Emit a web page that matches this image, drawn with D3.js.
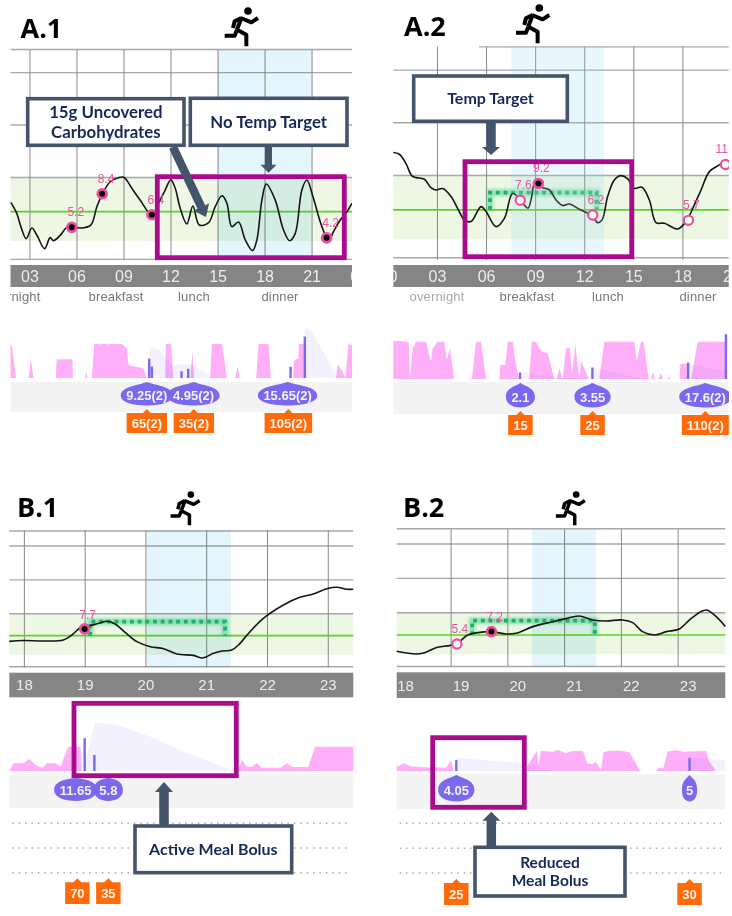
<!DOCTYPE html>
<html><head><meta charset="utf-8">
<script src="https://cdn.jsdelivr.net/npm/d3@7/dist/d3.min.js"></script>
<style>html,body{margin:0;padding:0;background:#fff}svg{display:block;filter:blur(0.35px)}</style>
</head><body><div id="c"></div>
<script>
// ---------- Panel A.1 ----------
const a1Hours=[1.81,2.19,2.45,2.79,3.15,3.47,3.96,4.32,4.53,4.96,5.38,5.70,6.23,6.91,7.30,7.62,8.15,8.68,9.04,9.53,10.06,10.81,11.23,11.66,12.02,12.30,12.62,13.04,13.43,13.83,14.43,14.85,15.28,15.60,15.91,16.34,16.77,17.23,17.51,17.83,18.11,18.68,19.21,19.60,19.96,20.38,20.70,21.09,21.66,22.09,22.40,22.83,23.26,23.57];
const a1Glucose=[7.58,6.53,5.27,4.12,5.14,4.47,3.17,4.22,3.93,4.44,5.2,5.27,5.14,5.42,7.17,8.28,9.55,9.93,9.96,8.92,7.8,6.38,7.49,8.76,9.74,8.92,7.01,5.52,7.23,5.42,5.65,7.17,8.22,7.49,5.27,5.71,4.0,2.98,4.0,7.8,9.33,7.8,4.95,3.93,4.63,8.76,9.71,8.12,5.27,3.93,4.79,5.9,6.69,7.49];
const a1MarkerHours=[5.70,7.64,10.81,21.96];
const a1MarkerValues=[5.2,8.4,6.4,4.2];
const a1MarkerFilled=[1,1,1,1];
const a1Exercise=[15.02,21.0];
const a1BasalHours=[1.79,1.89,2.15,2.94,3.09,3.26,4.68,4.74,5.74,5.77,6.55,6.62,6.70,6.98,7.13,7.5,7.53,7.56,8.0,8.03,8.06,8.89,9.21,9.32,10.28,10.49,11.66,11.70,12.02,12.19,13.26,13.40,13.51,14.53,14.64,15.28,15.60,16.13,16.28,16.40,17.47,17.62,18.26,18.40,19.81,19.89,20.17,20.18,20.53,20.66,22.55,22.66,22.94,23.15,23.36,23.58];
const a1BasalRates=[1,.92,0,0,.55,0,0,.55,.55,0,0,.19,0,0,1,1,.92,1,1,.92,1,1,.87,.38,.28,0,0,1,1,0,0,.77,0,0,1,1,0,0,.33,0,0,1,1,0,0,.51,.58,1,1,0,0,.38,.23,0,1,.97];
const a1IobHours=[10.49,10.70,11.34,11.98,12.40,12.72,13.36,14.32,14.74,20.55,20.60,21.02,22.51,22.66];
const a1IobRates=[0,.92,.82,.38,.38,.41,.38,.14,0,0,1.49,1.36,.14,0];
const a1BolusHours=[10.64,10.81,12.7,13.13,19.66,20.57];
const a1BolusRates=[.57,.34,.2,.27,.33,1.22];
const a1DropHours=[10.49,13.47,19.47];
const a1DropLabels=["9.25(2)","4.95(2)","15.65(2)"];
const a1CarbHours=[10.49,13.49,19.52];
const a1CarbLabels=["65(2)","35(2)","105(2)"];
const a1Periods=["overnight","breakfast","lunch","dinner"];

// ---------- Panel A.2 ----------
const a2Hours=[.33,.70,1.10,1.47,1.72,2.23,2.63,2.94,3.35,3.86,4.26,4.67,5.08,5.69,6.0,6.61,7.12,7.63,8.24,8.56,8.79,8.95,9.46,9.87,10.28,10.68,11.09,11.70,12.21,12.52,12.82,13.09,13.43,13.84,14.25,14.66,15.06,15.53,15.98,16.39,16.90,17.71,18.22,18.73,19.14,19.65,20.26,20.63];
const a2Glucose=[12.13,11.97,11.1,9.91,9.75,9.6,8.8,8.58,8.71,7.95,6.84,5.74,5.58,7.0,6.53,5.1,5.89,8.27,7.32,6.84,7.95,9.06,8.8,8.58,7.63,7.1,7.25,6.75,6.37,6.05,5.48,5.74,7.95,9.53,9.94,9.63,8.74,8.84,7.63,5.48,5.42,4.88,5.58,7.16,8.58,10.32,10.96,11.37];
const a2MarkerHours=[8.09,9.2,12.52,18.37,20.63];
const a2MarkerValues=[7.6,9.2,6.2,5.7,11];
const a2MarkerFilled=[0,1,0,0,0];
const a2Exercise=[7.55,13.21];
const a2TargetHours=[6.24,12.76];
const a2TargetLevel=8.33;
const a2BasalHours=[.33,1.27,1.35,1.51,1.72,2.33,2.63,2.74,3.04,3.45,3.61,3.79,4.06,4.83,5.14,5.38,5.69,6.0,6.81,6.87,7.18,7.32,7.63,7.77,8.03,8.64,8.79,9.05,9.26,9.46,9.77,10.17,10.32,10.48,10.68,10.89,11.13,11.25,11.46,11.70,11.80,12.27,12.92,13.23,15.06,15.21,15.47,15.63,15.94,16.10,16.19,16.29,16.55,16.67,16.80,17.10,17.16,17.25,17.82,17.88,18.33,18.39,18.53,18.94,20.63,20.71];
const a2BasalRates=[1,.97,0,.8,.97,.97,.45,.8,.97,.97,.5,.8,0,0,.02,.97,.97,0,0,.365,.365,.97,.97,.5,0,0,.97,.97,.8,.71,.67,0,0,.28,0,.8,.8,.15,.89,0,.48,0,0,.97,.97,.45,.97,.97,0,0,.19,0,0,.165,0,0,.08,0,0,.39,.39,0,0,.97,.97,0];
const a2IobHours=[8.24,8.25,10.17,12.62,12.63,15.57,18.39,18.40,20.63];
const a2IobRates=[0,.19,.04,0,.3,0,0,.4,.2];
const a2BolusHours=[8.08,12.5,18.35,20.66];
const a2BolusRates=[.17,.3,.43,1.17];
const a2DropHours=[8.1,12.51,19.4];
const a2DropLabels=["2.1","3.55","17.6(2)"];
const a2CarbHours=[8.1,12.51,19.4];
const a2CarbLabels=["15","25","110(2)"];
const a2Periods=["overnight","breakfast","lunch","dinner"];

// ---------- Panel B.1 ----------
const b1Hours=[17.76,17.99,18.32,18.65,18.79,18.95,19.06,19.23,19.37,19.50,19.67,19.86,20.08,20.30,20.52,20.79,20.94,21.12,21.26,21.42,21.53,21.72,21.94,22.27,22.54,22.76,23.01,23.15,23.31,23.42];
const b1Glucose=[5.87,6.0,5.92,6.06,6.8,8.03,8.13,8.52,8.82,8.43,7.15,5.82,5.08,4.79,4.0,3.8,3.41,4.1,4.44,4.59,5.33,7.29,9.26,11.23,12.36,12.85,13.69,13.84,13.54,13.54];
const b1MarkerHours=[19.0];
const b1MarkerValues=[7.7];
const b1MarkerFilled=[1];
const b1Exercise=[20.03,21.41];
const b1TargetHours=[19.09,21.31];
const b1TargetLevel=8.77;
const b1BasalHours=[17.76,17.83,17.99,18.09,18.19,18.30,18.38,18.52,18.6,18.73,18.93,18.95,21.52,21.53,21.59,21.67,21.75,21.83,21.91,22.22,22.33,22.41,22.68,22.79,23.42];
const b1BasalRates=[0,.31,.31,.48,.24,.13,.31,.31,.17,.97,.97,0,0,.1,.44,.17,.17,.31,.13,.13,.31,.16,.16,.97,.97];
const b1IobHours=[18.98,19.17,19.53,20.08,20.63,21.12,21.45];
const b1IobRates=[0,1.95,1.84,1.37,.77,.31,0];
const b1BolusHours=[19.0,19.16];
const b1BolusRates=[1.31,.64];
const b1DropHours=[18.85,19.39];
const b1DropLabels=["11.65","5.8"];
const b1CarbHours=[18.88,19.39];
const b1CarbLabels=["70","35"];

// ---------- Panel B.2 ----------
const b2Hours=[18.05,18.39,18.54,18.77,18.98,19.12,19.30,19.48,19.71,19.98,20.15,20.45,20.80,21.03,21.26,21.50,21.74,22.03,22.21,22.38,22.59,22.80,23.03,23.24,23.50,23.68,23.84];
const b2Glucose=[4.34,3.95,4.14,4.92,5.16,5.5,6.71,7.05,7.19,6.85,6.95,7.92,8.64,9.08,9.47,8.89,8.74,8.89,8.5,7.19,6.71,7.19,7.58,9.13,10.34,9.37,7.92];
const b2MarkerHours=[19.11,19.72];
const b2MarkerValues=[5.4,7.2];
const b2MarkerFilled=[0,1];
const b2Exercise=[20.43,21.56];
const b2TargetHours=[19.38,21.54];
const b2TargetLevel=8.79;
const b2BasalHours=[18.05,18.07,18.18,18.30,18.62,18.80,18.92,19.01,19.05,20.33,20.36,20.52,20.55,20.59,20.80,20.89,21.03,21.15,21.33,21.41,21.50,21.56,21.65,21.69,21.80,22.0,22.15,22.34,22.61,22.68,22.75,22.82,22.97,23.09,23.50,23.56,23.68];
const b2BasalRates=[.37,.21,.37,.21,.17,.17,.16,.52,0,0,.29,.95,.29,.95,.92,1,.84,.95,.95,.37,.32,.44,.05,.89,.97,.97,.89,0,0,.16,.16,.92,1,.92,.95,.44,0];
const b2IobHours=[19.08,19.09,20.27,20.80,23.24,23.25,23.84];
const b2IobRates=[0,.63,.37,0,0,.63,.52];
const b2BolusHours=[19.1,23.21];
const b2BolusRates=[.52,.63];
const b2DropHours=[19.1,23.21];
const b2DropLabels=["4.05","5"];
const b2CarbHours=[19.1,23.21];
const b2CarbLabels=["25","30"];

const gridValues=[2.2,10,15,20,22.2];
const bandRange=[3.9,10];
const targetBase=6.7;

// ---------- Colours ----------
const C={band:"#edf7e4",target:"#5ad420",bar:"#858585",hgrid:"#a8a8a8",vgrid:"#888888",blue:"#e4f5fd",pink:"#ffaef8",iob:"rgba(125,105,240,0.09)",bolus:"#7a68ee",orange:"#ff6a0a",strip:"#f3f3f3",magenta:"#ac0a8c",rose:"#ea4f9f",slate:"#44546a",navy:"#14285a",tt:"#1fae6a"};
const SANS="'Liberation Sans',Arial,sans-serif", CAL="Lato,'Open Sans',sans-serif";

const svg=d3.select("#c").append("svg").attr("width",732).attr("height",916).attr("viewBox","0 0 732 916");
const defs=svg.append("defs");
defs.append("filter").attr("id","glow").attr("x","-10%").attr("y","-40%").attr("width","120%").attr("height","180%")
  .append("feGaussianBlur").attr("stdDeviation",1.6);

function panel(L){
  const d=L.data;
  const x=d3.scaleLinear().domain(L.hours).range([L.left,L.right]);
  const y=d3.scaleLinear().domain(bandRange).range([L.bandBottom,L.bandTop]);
  const r=d3.scaleLinear().domain([0,1]).range([L.basalBase,L.basalTop]);
  const g=svg.append("g");
  const clipId="clip"+L.id;
  defs.append("clipPath").attr("id",clipId).append("rect").attr("x",L.left).attr("y",0).attr("width",L.right-L.left).attr("height",916);
  const gc=g.append("g").attr("clip-path",`url(#${clipId})`);
  gc.append("rect").attr("x",L.left).attr("width",L.right-L.left).attr("y",L.bandTop).attr("height",L.bandBottom-L.bandTop).attr("fill",C.band);
  const hAxis=gc.append("g").attr("transform",`translate(${L.left},0)`)
    .call(d3.axisLeft(y).tickValues(gridValues).tickSize(-(L.right-L.left)).tickFormat(""));
  hAxis.select(".domain").remove();
  hAxis.selectAll("line").attr("stroke",C.hgrid).attr("stroke-width",1.4);
  if(L.topStart) hAxis.selectAll(".tick").filter(v=>v===22.2).select("line").attr("x2",L.right-L.left).attr("x1",L.topStart-L.left);
  const vAxis=gc.append("g").attr("transform",`translate(0,${L.gridBottom})`)
    .call(d3.axisBottom(x).tickValues(L.ticks).tickSize(-(L.gridBottom-L.gridTop)).tickFormat(""));
  vAxis.select(".domain").remove();
  vAxis.selectAll("line").attr("stroke",C.vgrid).attr("stroke-width",1);
  gc.append("line").attr("x1",L.left).attr("x2",L.right).attr("y1",y(targetBase)).attr("y2",y(targetBase)).attr("stroke",C.target).attr("stroke-width",1.7);
  const exRect=sel=>sel.attr("x",x(d.exercise[0])).attr("width",x(d.exercise[1])-x(d.exercise[0])).attr("y",L.gridTop).attr("height",L.gridBottom-L.gridTop);
  gc.append("rect").call(exRect).attr("fill",C.blue).style("mix-blend-mode","multiply");
  if(d.targetHours){
    const pts=[[d.targetHours[0],targetBase],[d.targetHours[0],d.targetLevel],[d.targetHours[1],d.targetLevel],[d.targetHours[1],targetBase]];
    const ln=d3.line().x(p=>x(p[0])).y(p=>y(p[1]));
    gc.append("path").attr("d",ln(pts)).attr("fill","none").attr("stroke","#3ad184").attr("stroke-width",6.5).attr("opacity",.55).attr("filter","url(#glow)");
    gc.append("path").attr("d",ln(pts)).attr("fill","none").attr("stroke",C.tt).attr("stroke-width",L.ttWidth).attr("stroke-dasharray",L.ttDash);
  }
  const pts=d.hours.map((h,i)=>[h,d.glucose[i]]);
  gc.append("path").attr("d",d3.line().x(p=>x(p[0])).y(p=>y(p[1])).curve(d3.curveCatmullRom.alpha(.5))(pts)).attr("fill","none").attr("stroke","#151515").attr("stroke-width",1.6);
  if(L.box) boxRect(L.box);
  if(L.veil) gc.append("rect").call(exRect).attr("fill","#fff").attr("opacity",.16);
  d.markerHours.forEach((h,i)=>{
    const mx=x(h), my=y(d.markerValues[i]);
    if(d.markerFilled[i]){
      gc.append("circle").attr("cx",mx).attr("cy",my).attr("r",4.4).attr("fill","#000").attr("stroke",C.rose).attr("stroke-width",2.8);
    }else{
      gc.append("circle").attr("cx",mx).attr("cy",my).attr("r",4.6).attr("fill","#fff").attr("stroke",C.rose).attr("stroke-width",2.2);
    }
    gc.append("text").attr("x",Math.min(mx+L.markDx,L.right-7)).attr("y",my-L.markDy).attr("text-anchor","middle").attr("font-family",SANS).attr("font-size",12).attr("fill","#e2559f").text(d.markerValues[i]);
  });
  gc.append("rect").attr("x",L.left).attr("width",L.right-L.left).attr("y",L.barTop).attr("height",L.barBottom-L.barTop).attr("fill",C.bar);
  const tAxis=gc.append("g").attr("transform",`translate(${L.tickDx},${L.barTop})`)
    .call(d3.axisBottom(x).tickValues(L.ticks).tickSize(0).tickPadding(0).tickFormat(h=>d3.format("02")(h%24===0?0:h)));
  tAxis.select(".domain").remove();
  tAxis.selectAll("text").attr("font-family",SANS).attr("font-size",L.tickFont).attr("fill","#ececec").attr("dy",null).attr("y",(L.barBottom-L.barTop)/2+L.tickFont*0.36);
  if(L.periods) L.periods.forEach((c,i)=>{
    gc.append("text").attr("x",c).attr("y",L.periodY).attr("text-anchor","middle").attr("font-family",SANS).attr("font-size",13).attr("letter-spacing",".15px").attr("fill",(i===0&&L.id==="a2")?"#a8a8a8":"#777").text(d.periods[i]);
  });
  gc.append("rect").attr("x",L.left).attr("width",L.right-L.left).attr("y",L.stripTop).attr("height",L.stripBottom-L.stripTop).attr("fill",C.strip);
  const area=d3.area().x(p=>x(p[0])).y0(r(0)).y1(p=>r(p[1]));
  gc.append("path").attr("d",area(d.basalHours.map((h,i)=>[h,d.basalRates[i]]))).attr("fill",C.pink);
  gc.append("path").attr("d",area(d.iobHours.map((h,i)=>[h,d.iobRates[i]]))).attr("fill",C.iob);
  d.bolusHours.forEach((h,i)=>gc.append("rect").attr("x",x(h)-1.2).attr("width",2.4).attr("y",r(d.bolusRates[i])).attr("height",r(0)-r(d.bolusRates[i])).attr("fill",C.bolus));
  if(L.dots) L.dots.forEach(v=>gc.append("line").attr("x1",L.left+3).attr("x2",L.right-3).attr("y1",v).attr("y2",v).attr("stroke","#a8a8a8").attr("stroke-width",1.4).attr("stroke-dasharray","1.4 5"));
  d.dropHours.forEach((h,i)=>{
    const cx=x(h);
    const t=gc.append("text").attr("x",cx).attr("y",L.dropCy+4.5).attr("text-anchor","middle").attr("font-family",SANS).attr("font-weight","bold").attr("font-size",13).attr("fill","#f4f2ff").text(d.dropLabels[i]);
    const w=t.node().getComputedTextLength();
    const rx=w/2+(w<12?4:5.5), ry=L.dropRy, top=L.dropTop, cy=L.dropCy;
    const p=`M${cx},${top}C${cx+rx*.3},${top+(cy-ry-top)*.9} ${cx+rx},${cy-ry*.9} ${cx+rx},${cy}C${cx+rx},${cy+ry*.7} ${cx+rx*.5},${cy+ry} ${cx},${cy+ry}C${cx-rx*.5},${cy+ry} ${cx-rx},${cy+ry*.7} ${cx-rx},${cy}C${cx-rx},${cy-ry*.9} ${cx-rx*.3},${top+(cy-ry-top)*.9} ${cx},${top}Z`;
    gc.insert("path",()=>t.node()).attr("d",p).attr("fill",C.bolus);
  });
  d.carbHours.forEach((h,i)=>{
    const cx=x(h);
    const t=gc.append("text").attr("x",cx).attr("y",(L.carbTop+L.carbBottom)/2+4.7).attr("text-anchor","middle").attr("font-family",SANS).attr("font-weight","bold").attr("font-size",13).attr("fill","#fff2e6").text(d.carbLabels[i]);
    const w=t.node().getComputedTextLength()+10;
    gc.insert("path",()=>t.node()).attr("d",`M${cx-w/2},${L.carbTop}H${cx-4}L${cx},${L.carbTop-4}L${cx+4},${L.carbTop}H${cx+w/2}V${L.carbBottom}H${cx-w/2}Z`).attr("fill",C.orange);
  });
  if(L.lowerBox) boxRect(L.lowerBox);
  svg.append("text").attr("x",L.titleX).attr("y",L.titleY).attr("font-family","'Open Sans',sans-serif").attr("font-weight",700).attr("font-size",27).attr("fill","#000").text(L.title);
  runner(L.runX,L.runY,L.runS);
}
function boxRect(b){
  svg.append("rect").attr("x",b[0]).attr("y",b[1]).attr("width",b[2]-b[0]).attr("height",b[3]-b[1]).attr("fill","none").attr("stroke",C.magenta).attr("stroke-width",4.8);
}
function runner(px,py,s){
  const g=svg.append("g").attr("transform",`translate(${px},${py}) scale(${s})`);
  g.append("circle").attr("cx",72).attr("cy",12).attr("r",11.5).attr("fill","#000");
  [ "M50,33L82,46L102,33","M52,33L32,43L27,63","M52,33L39,68","M39,68L67,83L67,118","M39,68L32,86L2,86" ].forEach(p=>
    g.append("path").attr("d",p).attr("fill","none").attr("stroke","#000").attr("stroke-width",12).attr("stroke-linejoin","round").attr("stroke-linecap","butt"));
}
function callout(x0,y0,x1,y1,lines,size){
  svg.append("rect").attr("x",x0).attr("y",y0).attr("width",x1-x0).attr("height",y1-y0).attr("fill","#fff").attr("stroke",C.slate).attr("stroke-width",3.6);
  const cy=(y0+y1)/2, lh=size*1.17;
  lines.forEach((t,i)=>svg.append("text").attr("x",(x0+x1)/2).attr("y",cy+(i-(lines.length-1)/2)*lh+size*.35).attr("text-anchor","middle").attr("font-family",CAL).attr("font-weight",700).attr("font-size",size).attr("fill",C.navy).text(t));
}
function arrow(x0,y0,x1,y1,sw,hw,hl){
  const a=Math.atan2(y1-y0,x1-x0), ux=Math.cos(a), uy=Math.sin(a), nx=-uy, ny=ux;
  const bx=x1-ux*hl, by=y1-uy*hl;
  svg.append("path").attr("d",`M${x0+nx*sw/2},${y0+ny*sw/2}L${bx+nx*sw/2},${by+ny*sw/2}L${bx+nx*hw/2},${by+ny*hw/2}L${x1},${y1}L${bx-nx*hw/2},${by-ny*hw/2}L${bx-nx*sw/2},${by-ny*sw/2}L${x0-nx*sw/2},${y0-ny*sw/2}Z`).attr("fill",C.slate);
}

panel({id:"a1",title:"A.1",titleX:20.5,titleY:37.5,runX:224,runY:7,runS:1/3,hours:[1.79,23.58],left:10.5,right:352,
 ticks:[3,6,9,12,15,18,21,24],bandTop:177,bandBottom:241,gridTop:50,gridBottom:260,barTop:265,barBottom:287,tickDx:0,tickFont:16,
 markDx:4,markDy:11,periods:[13,116,194,280],periodY:301,basalBase:378,basalTop:344,stripTop:382,stripBottom:412,
 dropTop:382,dropCy:395.5,dropRy:10,carbTop:413,carbBottom:433,ttWidth:3.8,ttDash:"3.8 3.9",box:[157.3,176.7,344.3,257.7],
 data:{hours:a1Hours,glucose:a1Glucose,markerHours:a1MarkerHours,markerValues:a1MarkerValues,markerFilled:a1MarkerFilled,exercise:a1Exercise,basalHours:a1BasalHours,basalRates:a1BasalRates,iobHours:a1IobHours,iobRates:a1IobRates,bolusHours:a1BolusHours,bolusRates:a1BolusRates,dropHours:a1DropHours,dropLabels:a1DropLabels,carbHours:a1CarbHours,carbLabels:a1CarbLabels,periods:a1Periods}});
panel({id:"a2",title:"A.2",titleX:404,titleY:36,runX:515.3,runY:4,runS:1/3,hours:[.33,20.83],left:393.3,right:728.7,topStart:479,
 ticks:[0,3,6,9,12,15,18,21],bandTop:175,bandBottom:239.3,gridTop:46.5,gridBottom:260,barTop:265,barBottom:287,tickDx:0,tickFont:16,
 markDx:3,markDy:11,periods:[437,527,608,698],periodY:301,basalBase:379,basalTop:340.7,stripTop:382,stripBottom:414,
 dropTop:383,dropCy:397,dropRy:10.5,carbTop:415,carbBottom:435,ttWidth:3.8,ttDash:"3.8 3.9",box:[465,161.7,631.7,256.7],veil:true,
 data:{hours:a2Hours,glucose:a2Glucose,markerHours:a2MarkerHours,markerValues:a2MarkerValues,markerFilled:a2MarkerFilled,exercise:a2Exercise,targetHours:a2TargetHours,targetLevel:a2TargetLevel,basalHours:a2BasalHours,basalRates:a2BasalRates,iobHours:a2IobHours,iobRates:a2IobRates,bolusHours:a2BolusHours,bolusRates:a2BolusRates,dropHours:a2DropHours,dropLabels:a2DropLabels,carbHours:a2CarbHours,carbLabels:a2CarbLabels,periods:a2Periods}});
panel({id:"b1",title:"B.1",titleX:17,titleY:516.7,runX:170,runY:491,runS:.29,hours:[17.76,23.42],left:9.3,right:353.3,
 ticks:[18,19,20,21,22,23],bandTop:613.3,bandBottom:654.7,gridTop:530.3,gridBottom:667.3,barTop:672.7,barBottom:697.3,tickDx:0,tickFont:15,
 markDx:3,markDy:10,basalBase:771,basalTop:746,stripTop:774.3,stripBottom:808.3,dots:[823.3,848,872.7],
 dropTop:778,dropCy:790,dropRy:11,carbTop:882.3,carbBottom:904,ttWidth:3.8,ttDash:"3.8 3.9",lowerBox:[74,703.3,236.3,775.7],
 data:{hours:b1Hours,glucose:b1Glucose,markerHours:b1MarkerHours,markerValues:b1MarkerValues,markerFilled:b1MarkerFilled,exercise:b1Exercise,targetHours:b1TargetHours,targetLevel:b1TargetLevel,basalHours:b1BasalHours,basalRates:b1BasalRates,iobHours:b1IobHours,iobRates:b1IobRates,bolusHours:b1BolusHours,bolusRates:b1BolusRates,dropHours:b1DropHours,dropLabels:b1DropLabels,carbHours:b1CarbHours,carbLabels:b1CarbLabels}});
panel({id:"b2",title:"B.2",titleX:403,titleY:516.7,runX:555.3,runY:491,runS:.29,hours:[18.05,23.84],left:396.7,right:725.3,
 ticks:[19,20,21,22,23],bandTop:612.3,bandBottom:654.3,gridTop:529.3,gridBottom:666.7,barTop:672.3,barBottom:698,tickDx:10,tickFont:15,
 markDx:3,markDy:11,basalBase:771,basalTop:750,stripTop:774.3,stripBottom:809,dots:[823.3,848.3,873],
 dropTop:775,dropCy:790,dropRy:11.5,carbTop:883,carbBottom:905,ttWidth:3.8,ttDash:"3.8 3.9",lowerBox:[432.7,737.7,524.3,807.3],
 data:{hours:b2Hours,glucose:b2Glucose,markerHours:b2MarkerHours,markerValues:b2MarkerValues,markerFilled:b2MarkerFilled,exercise:b2Exercise,targetHours:b2TargetHours,targetLevel:b2TargetLevel,basalHours:b2BasalHours,basalRates:b2BasalRates,iobHours:b2IobHours,iobRates:b2IobRates,bolusHours:b2BolusHours,bolusRates:b2BolusRates,dropHours:b2DropHours,dropLabels:b2DropLabels,carbHours:b2CarbHours,carbLabels:b2CarbLabels}});

svg.append("text").attr("x",405.5).attr("y",690.5).attr("text-anchor","middle").attr("font-family",SANS).attr("font-size",15).attr("fill","#ececec").text("18");

arrow(173,147,206,217,8.5,17,11);
arrow(268.5,145,268.5,172.7,7,16,8);
callout(27.7,98.7,184,145.3,["15g Uncovered","Carbohydrates"],16.8);
callout(190.3,98.3,347,145.3,["No Temp Target"],16.8);
arrow(491,121,491,155,9.5,18,8);
callout(413.7,76,567.3,121.3,["Temp Target"],16);
arrow(164,826,164,782,9.5,18,10);
callout(135,826,291.7,872.7,["Active Meal Bolus"],16);
arrow(491.3,848,491.3,811.7,9.5,18,9);
callout(475,847.3,625,896,["Reduced","Meal Bolus"],15.5);
</script></body></html>
